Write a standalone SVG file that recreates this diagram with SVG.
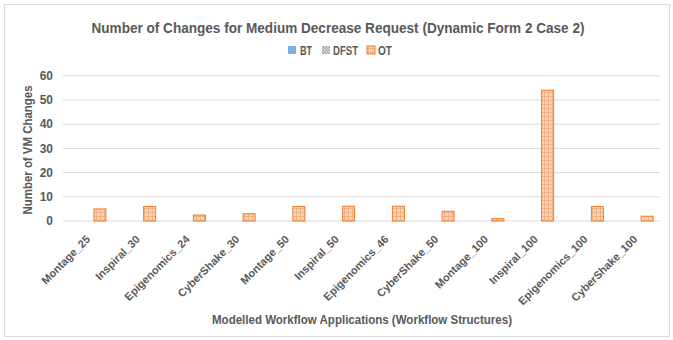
<svg xmlns="http://www.w3.org/2000/svg" width="673" height="340" viewBox="0 0 673 340">
  <defs>
    <pattern id="pOT" width="4" height="4" patternUnits="userSpaceOnUse">
      <rect width="4" height="4" fill="#F9D3B9"/>
      <rect x="0" y="0" width="1" height="4" fill="#F4B183"/>
      <rect x="0" y="0" width="4" height="1" fill="#F4B183"/>
    </pattern>
    <pattern id="pBT" width="3" height="3" patternUnits="userSpaceOnUse">
      <rect width="3" height="3" fill="#9DC3E6"/>
      <rect x="0" y="0" width="1.5" height="1.5" fill="#5B9BD5"/>
      <rect x="1.5" y="1.5" width="1.5" height="1.5" fill="#5B9BD5"/>
    </pattern>
    <pattern id="pDF" width="3" height="3" patternUnits="userSpaceOnUse">
      <rect width="3" height="3" fill="#D9D9D9"/>
      <rect x="0" y="0" width="1.5" height="1.5" fill="#A5A5A5"/>
      <rect x="1.5" y="1.5" width="1.5" height="1.5" fill="#A5A5A5"/>
    </pattern>
  </defs>
  <style>
    .t { font-family: "Liberation Sans", Arial, sans-serif; fill: #595959; }
    .title { font-size: 14px; font-weight: bold; }
    .axt { font-size: 12px; font-weight: bold; }
    .tick { font-size: 12px; font-weight: bold; }
    .xl { font-size: 11px; font-weight: bold; }
    .leg { font-size: 12px; font-weight: bold; }
    .grid { stroke: #D9D9D9; stroke-width: 1; }
    .bar { fill: url(#pOT); stroke: #ED7D31; stroke-width: 1; }
  </style>
  <rect x="0" y="0" width="673" height="340" fill="#FFFFFF"/>
  <rect x="4.5" y="4.5" width="665" height="332" fill="#FFFFFF" stroke="#D9D9D9" stroke-width="1"/>

  <text class="t title" x="338" y="33" text-anchor="middle" textLength="493" lengthAdjust="spacingAndGlyphs">Number of Changes for Medium Decrease Request (Dynamic Form 2 Case 2)</text>

  <g id="legend">
    <rect x="288" y="46" width="8" height="8" fill="url(#pBT)"/>
    <text class="t leg" x="300" y="54.5" textLength="12" lengthAdjust="spacingAndGlyphs">BT</text>
    <rect x="322" y="46" width="8" height="8" fill="url(#pDF)"/>
    <text class="t leg" x="333" y="54.5" textLength="25" lengthAdjust="spacingAndGlyphs">DFST</text>
    <rect x="367" y="46" width="8" height="8" fill="url(#pOT)" stroke="#ED7D31" stroke-width="1"/>
    <text class="t leg" x="378" y="54.5" textLength="14" lengthAdjust="spacingAndGlyphs">OT</text>
  </g>

  <g id="grid">
    <line class="grid" x1="63" y1="75.8" x2="660" y2="75.8"/>
    <line class="grid" x1="63" y1="100" x2="660" y2="100"/>
    <line class="grid" x1="63" y1="124.2" x2="660" y2="124.2"/>
    <line class="grid" x1="63" y1="148.4" x2="660" y2="148.4"/>
    <line class="grid" x1="63" y1="172.6" x2="660" y2="172.6"/>
    <line class="grid" x1="63" y1="196.8" x2="660" y2="196.8"/>
    <line class="grid" x1="63" y1="221" x2="660" y2="221"/>
  </g>

  <g id="yticks">
    <text class="t tick" x="53" y="80" text-anchor="end">60</text>
    <text class="t tick" x="53" y="104.2" text-anchor="end">50</text>
    <text class="t tick" x="53" y="128.4" text-anchor="end">40</text>
    <text class="t tick" x="53" y="152.6" text-anchor="end">30</text>
    <text class="t tick" x="53" y="176.8" text-anchor="end">20</text>
    <text class="t tick" x="53" y="201" text-anchor="end">10</text>
    <text class="t tick" x="53" y="225.2" text-anchor="end">0</text>
  </g>

  <text class="t axt" transform="translate(32,150) rotate(-90)" text-anchor="middle" textLength="129" lengthAdjust="spacingAndGlyphs">Number of VM Changes</text>

  <g id="bars">
    <rect class="bar" x="93.9" y="208.9" width="12" height="12.1"/>
    <rect class="bar" x="143.6" y="206.5" width="12" height="14.5"/>
    <rect class="bar" x="193.4" y="215" width="12" height="6"/>
    <rect class="bar" x="243.1" y="213.7" width="12" height="7.3"/>
    <rect class="bar" x="292.9" y="206.5" width="12" height="14.5"/>
    <rect class="bar" x="342.6" y="206.2" width="12" height="14.8"/>
    <rect class="bar" x="392.4" y="206.2" width="12" height="14.8"/>
    <rect class="bar" x="442.1" y="211.3" width="12" height="9.7"/>
    <rect class="bar" x="491.9" y="218.6" width="12" height="2.4"/>
    <rect class="bar" x="541.6" y="90.3" width="12" height="130.7"/>
    <rect class="bar" x="591.4" y="206.5" width="12" height="14.5"/>
    <rect class="bar" x="641.1" y="216.2" width="12" height="4.8"/>
  </g>

  <g id="xlabels">
    <text class="t xl" transform="translate(90.9,240) rotate(-45)" text-anchor="end">Montage_25</text>
    <text class="t xl" transform="translate(140.6,240) rotate(-45)" text-anchor="end">Inspiral_30</text>
    <text class="t xl" transform="translate(190.4,240) rotate(-45)" text-anchor="end">Epigenomics_24</text>
    <text class="t xl" transform="translate(240.1,240) rotate(-45)" text-anchor="end">CyberShake_30</text>
    <text class="t xl" transform="translate(289.9,240) rotate(-45)" text-anchor="end">Montage_50</text>
    <text class="t xl" transform="translate(339.6,240) rotate(-45)" text-anchor="end">Inspiral_50</text>
    <text class="t xl" transform="translate(389.4,240) rotate(-45)" text-anchor="end">Epigenomics_46</text>
    <text class="t xl" transform="translate(439.1,240) rotate(-45)" text-anchor="end">CyberShake_50</text>
    <text class="t xl" transform="translate(488.9,240) rotate(-45)" text-anchor="end">Montage_100</text>
    <text class="t xl" transform="translate(538.6,240) rotate(-45)" text-anchor="end">Inspiral_100</text>
    <text class="t xl" transform="translate(588.4,240) rotate(-45)" text-anchor="end">Epigenomics_100</text>
    <text class="t xl" transform="translate(638.1,240) rotate(-45)" text-anchor="end">CyberShake_100</text>
  </g>

  <text class="t axt" x="362" y="323.5" text-anchor="middle" textLength="300" lengthAdjust="spacingAndGlyphs">Modelled Workflow Applications (Workflow Structures)</text>
</svg>
